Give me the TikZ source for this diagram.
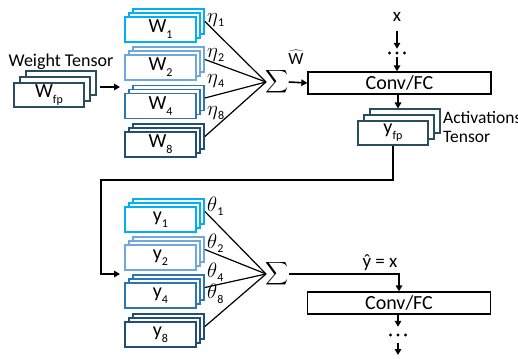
\documentclass[tikz,border=0pt]{standalone}
\usepackage{graphicx}
\usepackage{fontspec}
\setmainfont{Carlito}
\usetikzlibrary{shadows,arrows.meta,calc}

\definecolor{cWa}{HTML}{00B0F0}
\definecolor{cWb}{HTML}{6FA8DC}
\definecolor{cWc}{HTML}{2E75B6}
\definecolor{cWd}{HTML}{1F4E79}
\definecolor{cfp}{HTML}{2B4E5E}

% lowered, smaller subscript in text font
\newcommand\lsub[1]{\raisebox{-0.3em}{\fontsize{12}{12}\selectfont #1}}
% enlarged math symbols
\newcommand\bigsum{\scalebox{1.6}{$\displaystyle\sum$}}
\newcommand\greek[1]{\scalebox{1.45}{$#1$}}

\tikzset{
  tensor/.style={draw=#1, line width=1.8pt, fill=white,
    minimum width=71pt, minimum height=25pt, inner sep=0pt,
    double copy shadow={shadow xshift=4pt, shadow yshift=4pt},
    font=\fontsize{20}{20}\selectfont},
  fptensor/.style={draw=cfp, line width=1.8pt, fill=white,
    minimum width=70pt, minimum height=24pt, inner sep=0pt,
    double copy shadow={shadow xshift=6pt, shadow yshift=6pt},
    font=\fontsize{20}{20}\selectfont},
  layer/.style={draw, line width=1.3pt, fill=white, minimum width=183pt,
    minimum height=22pt, inner sep=0pt, font=\fontsize{20}{20}\selectfont},
  coef/.style={anchor=west, inner sep=0pt, font=\fontsize{15}{15}\selectfont},
  label/.style={inner sep=0pt, font=\fontsize{18}{18}\selectfont},
  sumsign/.style={inner sep=0pt},
  mix/.style={line width=1.2pt},
  arr/.style={line width=1.6pt, -{Triangle[length=6pt,width=6.5pt]}},
  dotrow/.style={minimum width=18pt, inner sep=0pt},
}

\begin{document}
\begin{tikzpicture}[x=1pt, y=-1pt]
\useasboundingbox (0,0) rectangle (518,358);

% ---------- weight branch ----------
\node[label] (wtlabel) at (61,62) {Weight Tensor};
\node[fptensor] (wfp) at (49,95) {W\lsub{fp}};

\node[tensor=cWa] (w1) at (160.5,29.5) {W\lsub{1}};
\node[tensor=cWb] (w2) at (160.5,67.5) {W\lsub{2}};
\node[tensor=cWc] (w4) at (160.5,106) {W\lsub{4}};
\node[tensor=cWd] (w8) at (160.5,144.5) {W\lsub{8}};

\coordinate (wfpout) at (100,87);
\coordinate (wqin) at (120,87);
\draw[arr] (wfpout) -- (wqin);

\node[coef] (eta1) at (207,20) {\greek{\eta}\lsub{1}};
\node[coef] (eta2) at (207,55) {\greek{\eta}\lsub{2}};
\node[coef] (eta4) at (207,81) {\greek{\eta}\lsub{4}};
\node[coef] (eta8) at (207,113) {\greek{\eta}\lsub{8}};

\node[sumsign] (sig1) at (277,82) {\bigsum};
\coordinate (m1) at (266,82);
\foreach \n in {w1,w2,w4,w8}
  \draw[mix] ($(\n.east)+(8,-8)$) -- (m1);

\node[inner sep=0pt, font=\fontsize{17}{17}\selectfont] (what) at (296,57) {$\widehat{\mbox{W}}$};

\node[layer] (conv1) at (399.5,83) {Conv/FC};
\draw[arr] (sig1.east) -- (conv1.west);

\node[inner sep=0pt, font=\fontsize{19}{19}\selectfont] (xin) at (397,17) {x};
\node[dotrow, minimum height=8pt] (dots1) at (397,53) {};
\foreach \dx in {-7.5,0,7.5}
  \fill ($(dots1)+(\dx,0)$) circle (1.6pt);
\draw[arr, shorten <=9pt] (xin.south) -- (dots1.north);
\draw[arr] (dots1.south) -- (conv1.north -| dots1);

% ---------- activation branch ----------
\node[fptensor] (yfp) at (393,133) {y\lsub{fp}};
\coordinate (yfptop) at (398,108.5);
\draw[arr] (conv1.south -| yfptop) -- (yfptop);
\node[label, anchor=west, align=left, font=\fontsize{17.5}{17.5}\selectfont]
  (actlabel) at (443,127) {Activations\\[1pt]Tensor};

\node[tensor=cWa] (y1) at (160.5,219.5) {y\lsub{1}};
\node[tensor=cWb] (y2) at (160.5,257.5) {y\lsub{2}};
\node[tensor=cWc] (y4) at (160.5,295.5) {y\lsub{4}};
\node[tensor=cWd] (y8) at (160.5,334.5) {y\lsub{8}};

\coordinate (fbturn) at (101,180);
\coordinate (yqin) at (120,274);
\draw[arr, line width=2pt] (yfp.south) |- (fbturn) |- (yqin);

\node[coef] (th1) at (207,206) {\greek{\theta}\lsub{1}};
\node[coef] (th2) at (207,243) {\greek{\theta}\lsub{2}};
\node[coef] (th4) at (207,272) {\greek{\theta}\lsub{4}};
\node[coef] (th8) at (207,294) {\greek{\theta}\lsub{8}};

\node[sumsign] (sig2) at (277,274) {\bigsum};
\coordinate (m2) at (266,274);
\foreach \n in {y1,y2,y4,y8}
  \draw[mix] ($(\n.east)+(8,-8)$) -- (m2);

\node[layer] (conv2) at (399,303) {Conv/FC};
\node[inner sep=0pt, font=\fontsize{19}{19}\selectfont] (yhat) at (380,263) {ŷ = x};
\draw[arr] (sig2.east) -| (conv2.north);

\node[dotrow, minimum height=16pt] (dots2) at (398,335) {};
\foreach \dx in {-7.5,0,7.5}
  \fill ($(dots2)+(\dx,0)$) circle (1.6pt);
\coordinate (out) at (398,355);
\draw[arr] (conv2.south -| dots2) -- (dots2.north);
\draw[arr] (dots2.south) -- (out);
\end{tikzpicture}
\end{document}
